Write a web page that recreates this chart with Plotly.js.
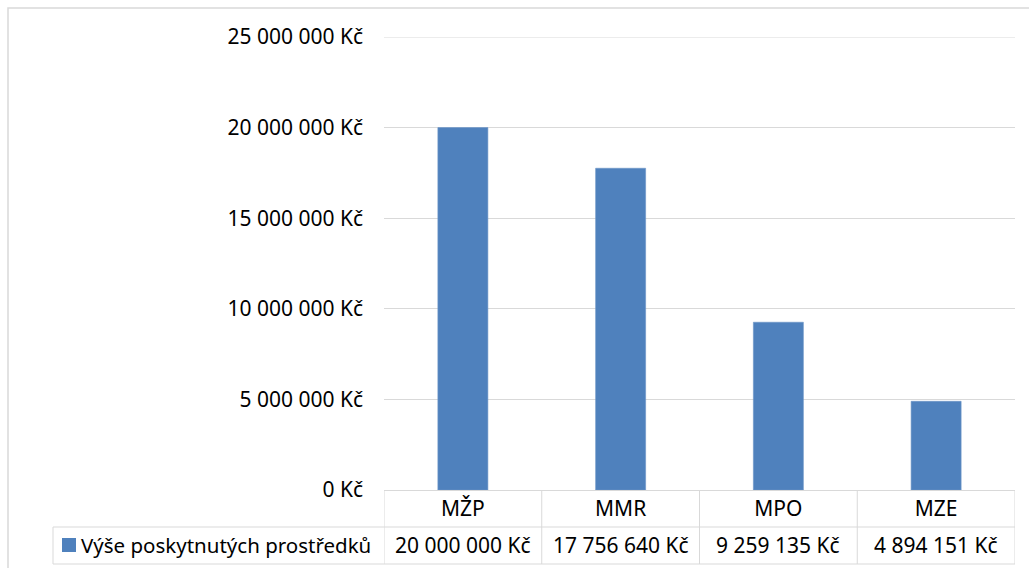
<!DOCTYPE html>
<html>
<head>
<meta charset="utf-8">
<script src="https://cdn.plot.ly/plotly-3.0.1.min.js"></script>
<style>
  html, body { margin: 0; padding: 0; background: #ffffff; }
  #chart { width: 1029px; height: 568px; }
</style>
</head>
<body>
<div id="chart"></div>
<script>
// ---- data ----
const categories = ["MŽP", "MMR", "MPO", "MZE"];
const seriesName = "Výše poskytnutých prostředků";
const values = [20000000, 17756640, 9259135, 4894151];
const yTickVals = [0, 5000000, 10000000, 15000000, 20000000, 25000000];
const yTickText = ["0 Kč", "5 000 000 Kč", "10 000 000 Kč", "15 000 000 Kč", "20 000 000 Kč", "25 000 000 Kč"];

// ---- styling ----
const barColor = "#4f81bd";
const gridColor = "#d9d9d9";
const fontFamily = "Noto Sans, Open Sans, DejaVu Sans, sans-serif";
const fontSize = 21;

function fmtKc(v) {
  return String(Math.round(v)).replace(/\B(?=(\d{3})+(?!\d))/g, " ") + " Kč";
}

// plot-area geometry (pixels) used to place the data table lines
const W = 1029, H = 568;
const L = 384, R = 14, T = 37, B = 78;
const pw = W - L - R, ph = H - T - B;
const px = x => (x - L) / pw;          // pixel x -> paper
const py = y => (H - B - y) / ph;      // pixel y -> paper

const line = {color: gridColor, width: 1};
const shapes = [];
// outer chart border
shapes.push({type: "rect", xref: "paper", yref: "paper", x0: px(8), x1: px(1040), y0: py(580), y1: py(8), line: {color: gridColor, width: 1.5}, layer: "below"});
// top gridline (at the edge of the axis range)
shapes.push({type: "line", xref: "paper", yref: "y", x0: 0, x1: 1, y0: yTickVals[yTickVals.length - 1], y1: yTickVals[yTickVals.length - 1], line, layer: "below"});
// table horizontal lines
shapes.push({type: "line", xref: "paper", yref: "paper", x0: px(53), x1: 1, y0: py(527), y1: py(527), line});
shapes.push({type: "line", xref: "paper", yref: "paper", x0: px(53), x1: 1, y0: py(564), y1: py(564), line});
// legend cell left edge
shapes.push({type: "line", xref: "paper", yref: "paper", x0: px(53), x1: px(53), y0: py(527), y1: py(564), line});
// column dividers
for (let i = 0; i <= categories.length; i++) {
  shapes.push({type: "line", xref: "x", yref: "paper", x0: i - 0.5, x1: i - 0.5, y0: 0, y1: py(564), line});
}
// legend key square
shapes.push({type: "rect", xref: "paper", yref: "paper", x0: px(62), x1: px(76), y0: py(552), y1: py(538), fillcolor: barColor, line: {width: 0}});

const annotations = [];
// table values row
categories.forEach((c, i) => {
  annotations.push({x: c, xref: "x", y: py(545), yref: "paper", text: fmtKc(values[i]), showarrow: false,
    xanchor: "center", yanchor: "middle", font: {family: fontFamily, size: fontSize, color: "#000000"}});
});
// legend text
annotations.push({x: px(79), xref: "paper", y: py(545), yref: "paper", text: seriesName, showarrow: false,
  xanchor: "left", yanchor: "middle", font: {family: fontFamily, size: 20.5, color: "#000000"}});

const trace = {
  type: "bar",
  x: categories,
  y: values,
  name: seriesName,
  marker: {color: barColor, line: {color: "#6b95c8", width: 0.6}},
  hoverinfo: "none"
};

const layout = {
  width: W, height: H,
  margin: {l: L, r: R, t: T, b: B, pad: 0},
  paper_bgcolor: "#ffffff",
  plot_bgcolor: "#ffffff",
  showlegend: false,
  bargap: 0.683,
  font: {family: fontFamily, size: fontSize, color: "#000000"},
  xaxis: {
    type: "category",
    range: [-0.5, categories.length - 0.5],
    showgrid: false,
    showline: true,
    linecolor: gridColor,
    linewidth: 1,
    ticks: "",
    ticklabelstandoff: 0,
    tickfont: {family: fontFamily, size: fontSize, color: "#000000"},
    fixedrange: true
  },
  yaxis: {
    range: [0, 25000000],
    tickvals: yTickVals,
    ticktext: yTickText,
    showgrid: true,
    gridcolor: gridColor,
    gridwidth: 1,
    zeroline: false,
    showline: false,
    ticks: "",
    ticklabelstandoff: 20,
    tickfont: {family: fontFamily, size: fontSize, color: "#000000"},
    fixedrange: true
  },
  shapes: shapes,
  annotations: annotations
};

Plotly.newPlot("chart", [trace], layout, {displayModeBar: false, staticPlot: true});
</script>
</body>
</html>
